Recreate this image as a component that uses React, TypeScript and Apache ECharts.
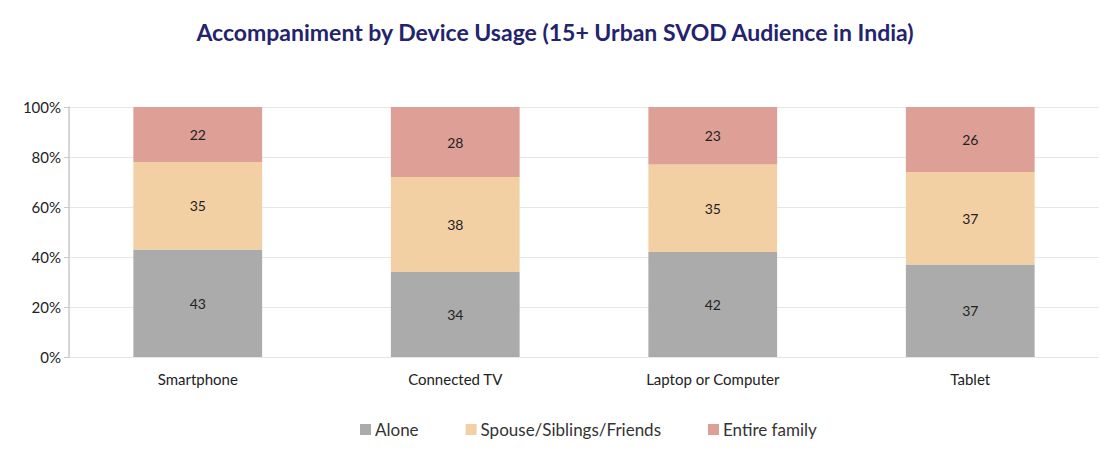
import React, { useEffect, useRef } from "react";
import * as echarts from "echarts";

const categories = ["Smartphone", "Connected TV", "Laptop or Computer", "Tablet"];
const alone = [43, 34, 42, 37];
const spouse = [35, 38, 35, 37];
const family = [22, 28, 23, 26];
const seriesNames = ["Alone", "Spouse/Siblings/Friends", "Entire family"];
const colors = ["#ababab", "#f2d0a4", "#de9f96"];

export default function App() {
  const ref = useRef<HTMLDivElement>(null);
  useEffect(() => {
    document.body.style.margin = "0";
    const chart = echarts.init(ref.current!, null, { renderer: "svg" });
    const font = "Lato";
    const mk = (name: string, data: number[], color: string) => ({
      name,
      type: "bar",
      stack: "total",
      data,
      barWidth: "50%",
      itemStyle: { color },
      label: {
        show: true,
        position: "inside",
        color: "#222",
        fontSize: 14,
        fontFamily: font,
      },
    });
    chart.setOption({
      animation: false,
      backgroundColor: "#ffffff",
      title: {
        text: "Accompaniment by Device Usage (15+ Urban SVOD Audience in India)",
        left: "center",
        top: 15,
        textStyle: { color: "#23236e", fontSize: 23, fontWeight: "bold", fontFamily: font },
      },
      legend: {
        bottom: 13,
        left: 355,
        itemWidth: 11,
        itemHeight: 11,
        itemGap: 47,
        icon: "rect",
        textStyle: { fontSize: 17, color: "#333", fontFamily: font, padding: [0, 0, 0, -1] },
        data: seriesNames,
      },
      grid: { left: 69, right: 11, top: 107, bottom: 99, containLabel: false },
      xAxis: {
        type: "category",
        data: categories,
        axisLine: { show: false },
        axisTick: { show: false },
        axisLabel: { color: "#222", fontSize: 15, margin: 14, fontFamily: font },
      },
      yAxis: {
        type: "value",
        min: 0,
        max: 100,
        interval: 20,
        axisLine: { show: true, lineStyle: { color: "#c8c8d0", width: 1.5 } },
        axisTick: { show: true, length: 5, lineStyle: { color: "#c8c8d0" } },
        splitLine: { lineStyle: { color: "#e6e6e6" } },
        axisLabel: { formatter: "{value}%", color: "#222", fontSize: 15, margin: 8, fontFamily: font },
      },
      series: [
        mk(seriesNames[0], alone, colors[0]),
        mk(seriesNames[1], spouse, colors[1]),
        mk(seriesNames[2], family, colors[2]),
      ],
    });
    return () => chart.dispose();
  }, []);
  return <div ref={ref} style={{ width: 1110, height: 456 }} />;
}
